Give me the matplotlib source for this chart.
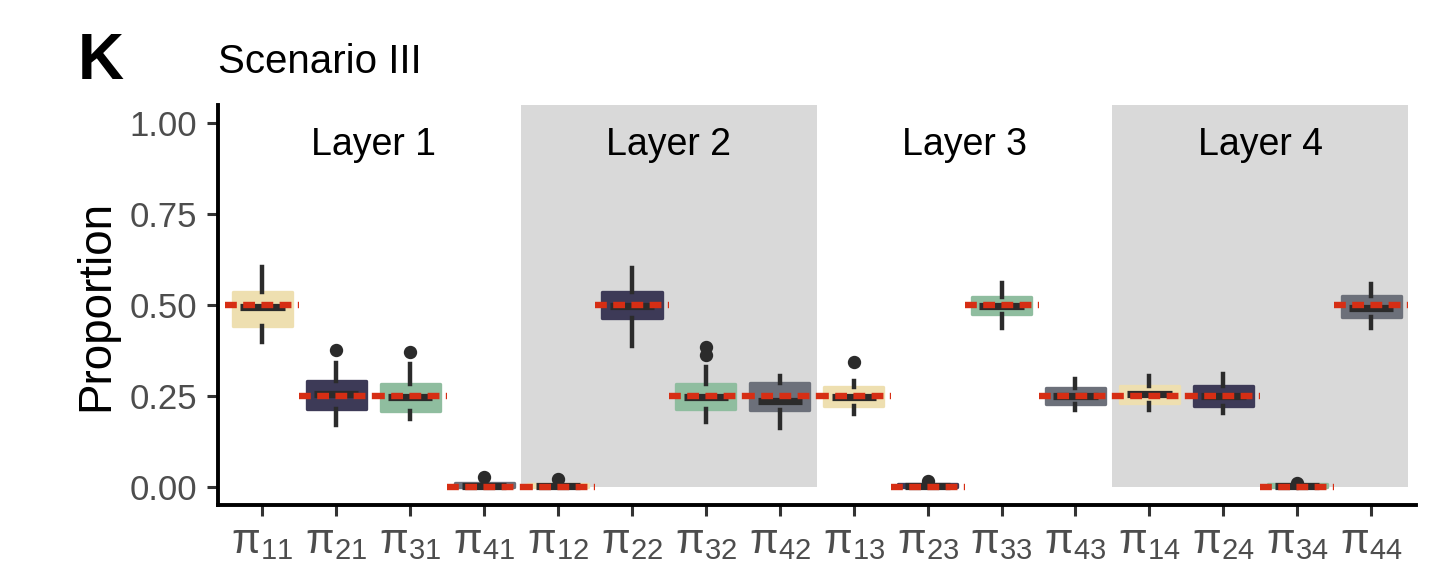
import numpy as np
import matplotlib
matplotlib.use("Agg")
import matplotlib.pyplot as plt

plt.rcParams['font.family'] = ['Liberation Sans', 'DejaVu Sans']
plt.rcParams['mathtext.fontset'] = 'custom'
plt.rcParams['mathtext.rm'] = 'Liberation Sans'
plt.rcParams['mathtext.it'] = 'Liberation Sans:italic'

# Parametres (ordre de l'axe x)
etiquettes = [r'$\mathrm{\pi}_{11}$', r'$\mathrm{\pi}_{21}$', r'$\mathrm{\pi}_{31}$', r'$\mathrm{\pi}_{41}$',
              r'$\mathrm{\pi}_{12}$', r'$\mathrm{\pi}_{22}$', r'$\mathrm{\pi}_{32}$', r'$\mathrm{\pi}_{42}$',
              r'$\mathrm{\pi}_{13}$', r'$\mathrm{\pi}_{23}$', r'$\mathrm{\pi}_{33}$', r'$\mathrm{\pi}_{43}$',
              r'$\mathrm{\pi}_{14}$', r'$\mathrm{\pi}_{24}$', r'$\mathrm{\pi}_{34}$', r'$\mathrm{\pi}_{44}$']
groupe = [0, 1, 2, 3, 0, 1, 2, 3, 0, 1, 2, 3, 0, 1, 2, 3]

# Statistiques des boites
moustache_bas = [0.398, 0.170, 0.186, 0.000, 0.000, 0.388, 0.179, 0.162,
                 0.201, 0.000, 0.436, 0.210, 0.210, 0.203, 0.000, 0.436]
q1 = [0.443, 0.214, 0.208, 0.000, 0.000, 0.463, 0.214, 0.210,
      0.223, 0.000, 0.475, 0.227, 0.230, 0.223, 0.000, 0.468]
mediane = [0.494, 0.254, 0.248, 0.003, 0.002, 0.498, 0.248, 0.237,
           0.246, 0.002, 0.498, 0.249, 0.254, 0.251, 0.002, 0.491]
q3 = [0.535, 0.290, 0.283, 0.010, 0.008, 0.537, 0.283, 0.285,
      0.274, 0.008, 0.523, 0.271, 0.278, 0.277, 0.008, 0.526]
moustache_haut = [0.604, 0.340, 0.338, 0.015, 0.012, 0.601, 0.329, 0.306,
                  0.292, 0.012, 0.560, 0.297, 0.306, 0.310, 0.010, 0.558]
aberrants = [[], [0.377], [0.371], [0.027], [0.022], [], [0.384, 0.363], [],
             [0.344], [0.017], [], [], [], [], [0.010], []]

# Vraies valeurs
vraies = [0.5, 0.25, 0.25, 0.0, 0.0, 0.5, 0.25, 0.25,
          0.25, 0.0, 0.5, 0.25, 0.25, 0.25, 0.0, 0.5]

couches = ['Layer 1', 'Layer 2', 'Layer 3', 'Layer 4']
couleurs = ['#EEDFB0', '#3D3A57', '#8FBD9F', '#6C707A']

positions = np.arange(1, len(etiquettes) + 1)

fig = plt.figure(figsize=(7.2, 2.845), dpi=200)
ax = fig.add_axes([0.1514, 0.1125, 0.8316, 0.703])

# Bandes grises pour les couches 2 et 4
for k in range(len(couches)):
    debut = 4 * k + 0.5
    if k % 2 == 1:
        ax.axvspan(debut, debut + 4, ymin=0.05 / 1.1, ymax=1.0, color='#D9D9D9', lw=0, zorder=0)
    ax.text(debut + 2, 0.94, couches[k], ha='center', va='center', fontsize=13.5, color='black')

stats = []
for i in range(len(etiquettes)):
    stats.append({'whislo': moustache_bas[i], 'q1': q1[i], 'med': mediane[i],
                  'q3': q3[i], 'whishi': moustache_haut[i], 'fliers': aberrants[i]})

bp = ax.bxp(stats, positions=positions, widths=0.8, patch_artist=True,
            showcaps=False,
            whiskerprops=dict(color='#2B2B2B', linewidth=1.6),
            medianprops=dict(linewidth=0),
            flierprops=dict(marker='o', markerfacecolor='#2B2B2B', markeredgecolor='#2B2B2B',
                            markersize=3.8),
            zorder=2)
for i, boite in enumerate(bp['boxes']):
    c = couleurs[groupe[i]]
    boite.set_facecolor(c)
    boite.set_edgecolor(c)
    boite.set_linewidth(1.2)
    boite.set_joinstyle('round')

# Medianes (plus courtes que la boite)
ax.hlines(mediane, positions - 0.3, positions + 0.3, colors='#2B2B2B', linewidth=2.6, zorder=3)

# Vraies valeurs en pointilles rouges
ax.hlines(vraies, positions - 0.5, positions + 0.5, colors='#D62E14', linewidth=2.3,
          linestyles=(0, (1.85, 1.0)), zorder=4)

ax.set_xlim(0.4, 16.6)
ax.set_ylim(-0.05, 1.05)
ax.set_xticks(positions)
ax.set_xticklabels(etiquettes, fontsize=15, color='#4D4D4D')
ax.set_yticks([0, 0.25, 0.5, 0.75, 1.0])
ax.set_yticklabels(['0.00', '0.25', '0.50', '0.75', '1.00'], fontsize=12.5, color='#4D4D4D')
ax.set_ylabel('Proportion', fontsize=16.5, labelpad=4)

for cote in ['top', 'right']:
    ax.spines[cote].set_visible(False)
for cote in ['left', 'bottom']:
    ax.spines[cote].set_linewidth(1.4)
ax.tick_params(axis='both', length=4, width=1.1, color='#333333')
ax.tick_params(axis='x', pad=2)

fig.text(78 / 1440, 1 - 62 / 569, 'K', fontsize=23, fontweight='bold', ha='left', va='center')
fig.text(218 / 1440, 1 - 62 / 569, 'Scenario III', fontsize=14.5, ha='left', va='center')

fig.savefig('out.png', dpi=200)
plt.close('all')
